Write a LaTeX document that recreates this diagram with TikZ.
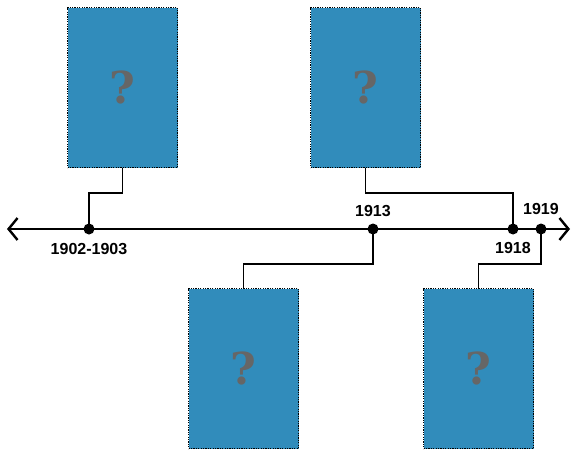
\documentclass[tikz,border=0pt]{standalone}
\usepackage{fontspec}
\setmainfont{Liberation Sans}
\newfontfamily\qfont{DejaVu Serif}
\usetikzlibrary{arrows.meta}
\definecolor{boxblue}{HTML}{318CBB}
\definecolor{qgray}{HTML}{666666}
\tikzset{
  pic box/.style={draw=black, fill=boxblue, line width=1.2pt, dash pattern=on 1.2pt off 1.2pt,
    minimum width=110pt, minimum height=160pt, inner sep=0pt, anchor=north west,
    font=\qfont\bfseries\fontsize{44}{44}\selectfont, text=qgray},
  axisline/.style={line width=2.6pt, {Straight Barb[length=9pt,width=22pt,line width=2.4pt]}-{Straight Barb[length=9pt,width=22pt,line width=2.4pt]}},
  link/.style={line width=1.6pt},
  dot/.style={circle, fill=black, minimum size=11pt, inner sep=0pt},
  yearlabel/.style={font=\bfseries\fontsize{16}{16}\selectfont}
}
\begin{document}
\begin{tikzpicture}[x=1pt,y=-1pt]
\useasboundingbox (0,0) rectangle (574,452);
\node[pic box] (b1) at (67,7) {?};
\node[pic box] (b2) at (310,7) {?};
\node[pic box] (b3) at (188,288) {?};
\node[pic box] (b4) at (423,288) {?};
\coordinate (L) at (7,229);
\coordinate (R) at (570,229);
\draw[axisline] (L) -- (R);
\node[dot] (d1) at (89,229) {};
\node[dot] (d2) at (373,229) {};
\node[dot] (d3) at (513,229) {};
\node[dot] (d4) at (541,229) {};
\draw[link] (b1.south) -- ++(0,25) -| (d1.center);
\draw[link] (b2.south) -- ++(0,25) -| (d3.center);
\draw[link] (b3.north) -- ++(0,-24) -| (d2.center);
\draw[link] (b4.north) -- ++(0,-24) -| (d4.center);
\node[yearlabel] (t1) at (89,249) {1902-1903};
\node[yearlabel] (t2) at (373,211) {1913};
\node[yearlabel] (t3) at (513,248) {1918};
\node[yearlabel] (t4) at (541,209) {1919};
\end{tikzpicture}
\end{document}
